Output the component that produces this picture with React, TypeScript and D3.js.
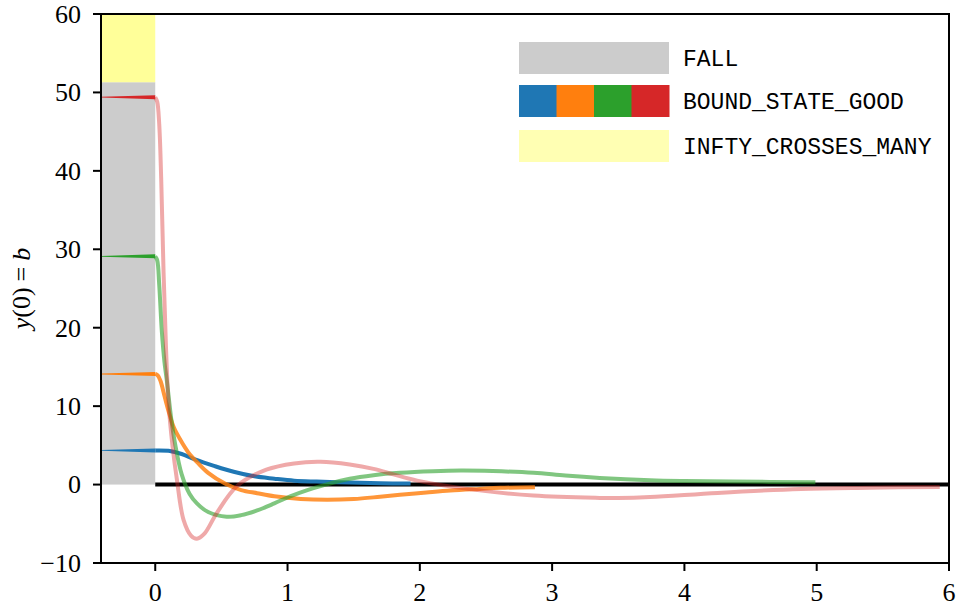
import React from "react";
import * as d3 from "d3";

const xTicks = [0, 1, 2, 3, 4, 5, 6];
const yTicks = [-10, 0, 10, 20, 30, 40, 50, 60];
const xDomain: [number, number] = [-0.41, 6];
const yDomain: [number, number] = [-10, 60];

const fallTop = 51.3;
const colors = ["#1f77b4", "#ff7f0e", "#2ca02c", "#d62728"];
const opacities = [1, 0.82, 0.6, 0.4];
const bValues = [4.35, 14.1, 29.1, 49.4];

const blueCurve: [number, number][] = [
  [0, 4.35], [0.1, 4.3], [0.2, 3.9], [0.3, 3.2], [0.45, 2.35], [0.6, 1.6], [0.75, 1.05],
  [0.9, 0.75], [1.05, 0.5], [1.22, 0.38], [1.47, 0.25], [1.7, 0.17], [1.93, 0.13],
];
const orangeCurve: [number, number][] = [
  [0, 14.1], [0.02, 13.9], [0.04, 13.2], [0.07, 11.3], [0.1, 9.4], [0.14, 7.3], [0.19, 5.7],
  [0.25, 4.1], [0.32, 2.8], [0.4, 1.5], [0.53, 0.1], [0.65, -0.7], [0.77, -1.1], [0.9, -1.5],
  [1.1, -1.85], [1.3, -1.95], [1.5, -1.85], [1.7, -1.55], [1.85, -1.3], [2.05, -1.0],
  [2.23, -0.75], [2.45, -0.55], [2.61, -0.42], [2.87, -0.33],
];
const greenCurve: [number, number][] = [
  [0, 29.1], [0.015, 28.6], [0.03, 25.5], [0.05, 19.5], [0.07, 15.6], [0.088, 13.2],
  [0.12, 8.5], [0.15, 5.2], [0.2, 1.3], [0.26, -1.2], [0.315, -2.4], [0.4, -3.5],
  [0.54, -4.1], [0.65, -3.9], [0.77, -3.3], [0.9, -2.4], [1.02, -1.5], [1.15, -0.7],
  [1.27, -0.1], [1.47, 0.75], [1.65, 1.2], [1.85, 1.5], [2.1, 1.7], [2.31, 1.78],
  [2.55, 1.72], [2.86, 1.5], [3.1, 1.15], [3.36, 0.85], [3.74, 0.55], [4.0, 0.45],
  [4.37, 0.38], [4.99, 0.3],
];
const redCurve: [number, number][] = [
  [0, 49.4], [0.015, 48.8], [0.03, 46], [0.045, 39], [0.063, 27], [0.081, 17.6], [0.1, 10.5],
  [0.13, 5], [0.164, 0.6], [0.214, -4.5], [0.27, -6.5], [0.315, -6.9], [0.37, -6.3],
  [0.466, -3.6], [0.617, -0.2], [0.84, 1.9], [1.05, 2.7], [1.25, 2.9], [1.47, 2.55],
  [1.65, 2.0], [1.8, 1.3], [1.98, 0.5], [2.36, -0.55], [2.86, -1.4], [3.36, -1.7],
  [3.5, -1.72], [3.74, -1.6], [4.25, -1.06], [4.88, -0.55], [5.4, -0.4], [5.93, -0.3],
];
const curves = [blueCurve, orangeCurve, greenCurve, redCurve];

const legendLabels = ["FALL", "BOUND_STATE_GOOD", "INFTY_CROSSES_MANY"];
const legendFills = ["#cccccc", "multi", "#ffffb3"];

const W = 959;
const H = 606;
const m = { left: 101, right: 949, top: 14, bottom: 563 };

export default function App() {
  const x = d3.scaleLinear().domain(xDomain).range([m.left, m.right]);
  const y = d3.scaleLinear().domain(yDomain).range([m.bottom, m.top]);
  const line = d3
    .line<[number, number]>()
    .x((d) => x(d[0]))
    .y((d) => y(d[1]))
    .curve(d3.curveCatmullRom.alpha(0.5));

  const serif = "'Liberation Serif', 'Times New Roman', serif";
  const mono = "'Liberation Mono', 'DejaVu Sans Mono', monospace";

  const legX = 519;
  const legW = 150;
  const legH = 32;
  const legYs = [42, 85, 130];

  return (
    <svg
      width={W}
      height={H}
      style={{ position: "absolute", left: 0, top: 0, background: "#fff" }}
    >
      <rect
        x={x(xDomain[0])}
        y={y(fallTop)}
        width={x(0) - x(xDomain[0])}
        height={y(0) - y(fallTop)}
        fill="#cccccc"
      />
      <rect
        x={x(xDomain[0])}
        y={y(yDomain[1])}
        width={x(0) - x(xDomain[0])}
        height={y(fallTop) - y(yDomain[1])}
        fill="#ffff99"
      />
      <line x1={x(0)} x2={x(xDomain[1])} y1={y(0)} y2={y(0)} stroke="#000" strokeWidth={4} />
      {bValues.map((b, i) => {
        const x0 = x(xDomain[0]);
        const x1 = x(0);
        const yc = y(b);
        const pts = [
          [x0, yc - 0.4],
          [x1, yc - 2],
          [x1, yc + 2],
          [x0, yc + 0.4],
        ];
        return (
          <polygon key={"w" + i} points={pts.map((p) => p.join(",")).join(" ")} fill={colors[i]} />
        );
      })}
      {curves.map((c, i) => (
        <path
          key={"c" + i}
          d={line(c) || ""}
          fill="none"
          stroke={colors[i]}
          strokeOpacity={opacities[i]}
          strokeWidth={4}
          strokeLinejoin="round"
        />
      ))}
      <rect
        x={m.left}
        y={m.top}
        width={m.right - m.left}
        height={m.bottom - m.top}
        fill="none"
        stroke="#000"
        strokeWidth={2}
      />
      {yTicks.map((t) => (
        <g key={"yt" + t}>
          <line x1={m.left - 8} x2={m.left} y1={y(t)} y2={y(t)} stroke="#000" strokeWidth={2} />
          <text
            x={m.left - 20}
            y={y(t)}
            dy="0.34em"
            textAnchor="end"
            fontFamily={serif}
            fontSize={26}
          >
            {t < 0 ? "\u2212" + Math.abs(t) : t}
          </text>
        </g>
      ))}
      {xTicks.map((t) => (
        <g key={"xt" + t}>
          <line x1={x(t)} x2={x(t)} y1={m.bottom} y2={m.bottom + 8} stroke="#000" strokeWidth={2} />
          <text x={x(t)} y={m.bottom + 38} textAnchor="middle" fontFamily={serif} fontSize={26}>
            {t}
          </text>
        </g>
      ))}
      <text
        transform={`translate(30, ${(m.top + m.bottom) / 2}) rotate(-90)`}
        textAnchor="middle"
        fontFamily={serif}
        fontSize={26}
      >
        <tspan fontStyle="italic">y</tspan>
        <tspan>(0)</tspan>
        <tspan dx={6}>=</tspan>
        <tspan dx={6} fontStyle="italic">b</tspan>
      </text>
      {legendLabels.map((lab, i) => (
        <g key={"lg" + i}>
          {legendFills[i] === "multi" ? (
            colors.map((c, j) => (
              <rect
                key={"lc" + j}
                x={legX + (j * legW) / 4}
                y={legYs[i]}
                width={legW / 4 + 0.5}
                height={legH}
                fill={c}
              />
            ))
          ) : (
            <rect x={legX} y={legYs[i]} width={legW} height={legH} fill={legendFills[i]} />
          )}
          <text
            x={683}
            y={legYs[i] + legH / 2}
            dy="0.35em"
            fontFamily={mono}
            fontSize={23}
          >
            {lab}
          </text>
        </g>
      ))}
    </svg>
  );
}
